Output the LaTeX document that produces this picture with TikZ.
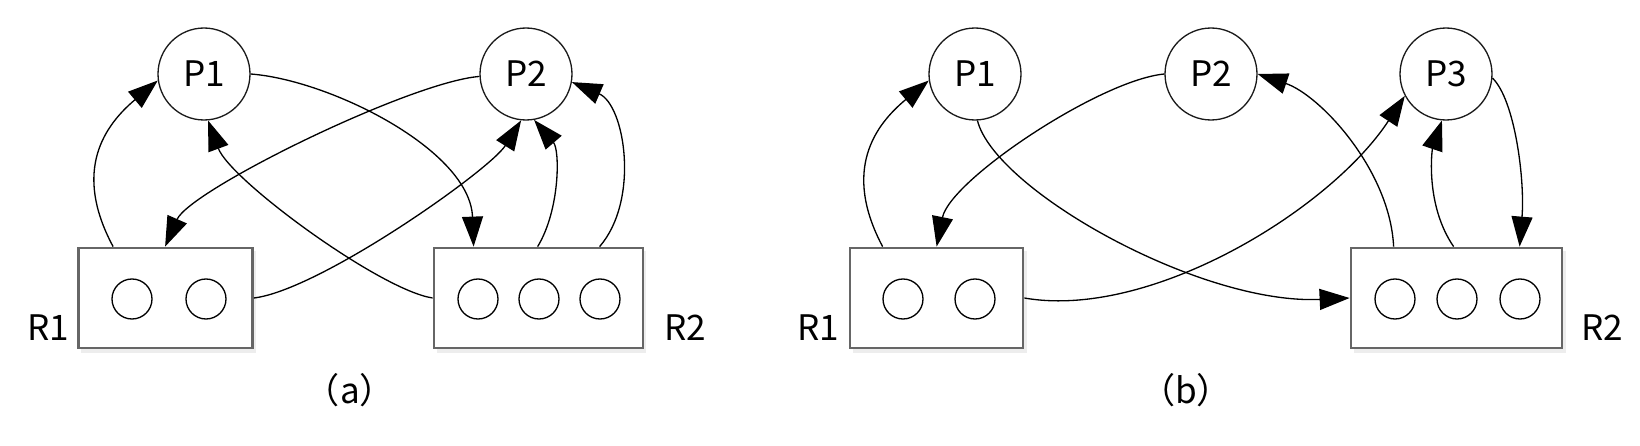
\documentclass[tikz,border=0pt]{standalone}
\usepackage{fontspec}
\newfontfamily\cjk{Noto Sans CJK SC}
\usetikzlibrary{arrows.meta,calc}
\begin{document}
\begin{tikzpicture}[x=0.02cm,y=-0.02cm,
  txt/.style={font=\cjk\fontsize{20}{24}\selectfont, inner sep=0pt},
  proc/.style={draw=black!90, line width=0.75pt, circle, minimum size=1.84cm, inner sep=0pt, font=\cjk\fontsize{20}{24}\selectfont},
  res/.style={draw=black!60, line width=1.6pt, rectangle, fill=white, minimum height=2cm, inner sep=0pt},
  inst/.style={draw=black, line width=0.75pt, circle, minimum size=0.8cm, inner sep=0pt},
  edge/.style={draw=black, line width=0.75pt, -{Triangle[length=0.6cm,width=0.42cm]}},
  shade/.style={fill=black!7, draw=none}
]
\useasboundingbox (0,0) rectangle (1640,446);
% ---------- panel (a)
\node[proc] (P1a) at (204,74) {P1};
\node[proc] (P2a) at (526,74) {P2};
\fill[shade] (81,251) rectangle (256,353);
\fill[shade] (437,251) rectangle (646,353);
\node[res, minimum width=3.48cm] (R1a) at (165.5,298) {};
\node[res, minimum width=4.18cm] (R2a) at (538.5,298) {};
\node[inst] (r1a1) at (132,299) {};
\node[inst] (r1a2) at (206,299) {};
\node[inst] (r2a1) at (478,299) {};
\node[inst] (r2a2) at (539,299) {};
\node[inst] (r2a3) at (600,299) {};
\node[txt] (L1a) at (48,328) {R1};
\node[txt] (L2a) at (685,328) {R2};
\node[txt] (capa) at (350,390) {（a）};

\coordinate (a1s) at ($(R1a.north west)+(36,0)$);
\coordinate (a4e) at ($(R1a.north west)+(88,0)$);
\coordinate (a2e) at ($(R2a.north west)+(41,0)$);
\coordinate (a6s) at ($(R2a.north west)+(105,0)$);
\coordinate (a7s) at ($(R2a.north west)+(167,0)$);

\draw[edge] (a1s) .. controls (72,170) and (105,125) .. (P1a.188);
\draw[edge] (P1a.0) .. controls (330,80) and (470,150) .. (a2e);
\draw[edge] (R2a.west) .. controls (380,290) and (230,180) .. (P1a.275);
\draw[edge] (P2a.183) .. controls (410,82) and (190,190) .. (a4e);
\draw[edge] (R1a.east) .. controls (320,290) and (490,170) .. (P2a.264);
\draw[edge] (a6s) .. controls (560,210) and (560,150) .. (P2a.280);
\draw[edge] (a7s) .. controls (640,200) and (625,105) .. (P2a.350);

% ---------- panel (b)
\node[proc] (P1b) at (975,74) {P1};
\node[proc] (P2b) at (1211,74) {P2};
\node[proc] (P3b) at (1446,74) {P3};
\fill[shade] (853,251) rectangle (1027,353);
\fill[shade] (1354,251) rectangle (1566,353);
\node[res, minimum width=3.46cm] (R1b) at (936.5,298) {};
\node[res, minimum width=4.22cm] (R2b) at (1456.5,298) {};
\node[inst] (r1b1) at (903,299) {};
\node[inst] (r1b2) at (975,299) {};
\node[inst] (r2b1) at (1395,299) {};
\node[inst] (r2b2) at (1457,299) {};
\node[inst] (r2b3) at (1520,299) {};
\node[txt] (L1b) at (818,328) {R1};
\node[txt] (L2b) at (1602,328) {R2};
\node[txt] (capb) at (1186,390) {（b）};

\coordinate (b1s) at ($(R1b.north west)+(34,0)$);
\coordinate (b3e) at ($(R1b.north west)+(88,0)$);
\coordinate (b5s) at ($(R2b.north west)+(44,0)$);
\coordinate (b6s) at ($(R2b.north west)+(104,0)$);
\coordinate (b7e) at ($(R2b.north west)+(170,0)$);

\draw[edge] (b1s) .. controls (842,170) and (875,125) .. (P1b.188);
\draw[edge] (P1b.273) .. controls (995,190) and (1200,305) .. (R2b.west);
\draw[edge] (P2b.180) .. controls (1100,80) and (950,180) .. (b3e);
\draw[edge] (R1b.east) .. controls (1150,320) and (1330,210) .. (P3b.208);
\draw[edge] (b5s) .. controls (1390,170) and (1320,95) .. (P2b.0);
\draw[edge] (b6s) .. controls (1425,205) and (1432,150) .. (P3b.265);
\draw[edge] (P3b.355) .. controls (1515,100) and (1525,180) .. (b7e);
\end{tikzpicture}
\end{document}
